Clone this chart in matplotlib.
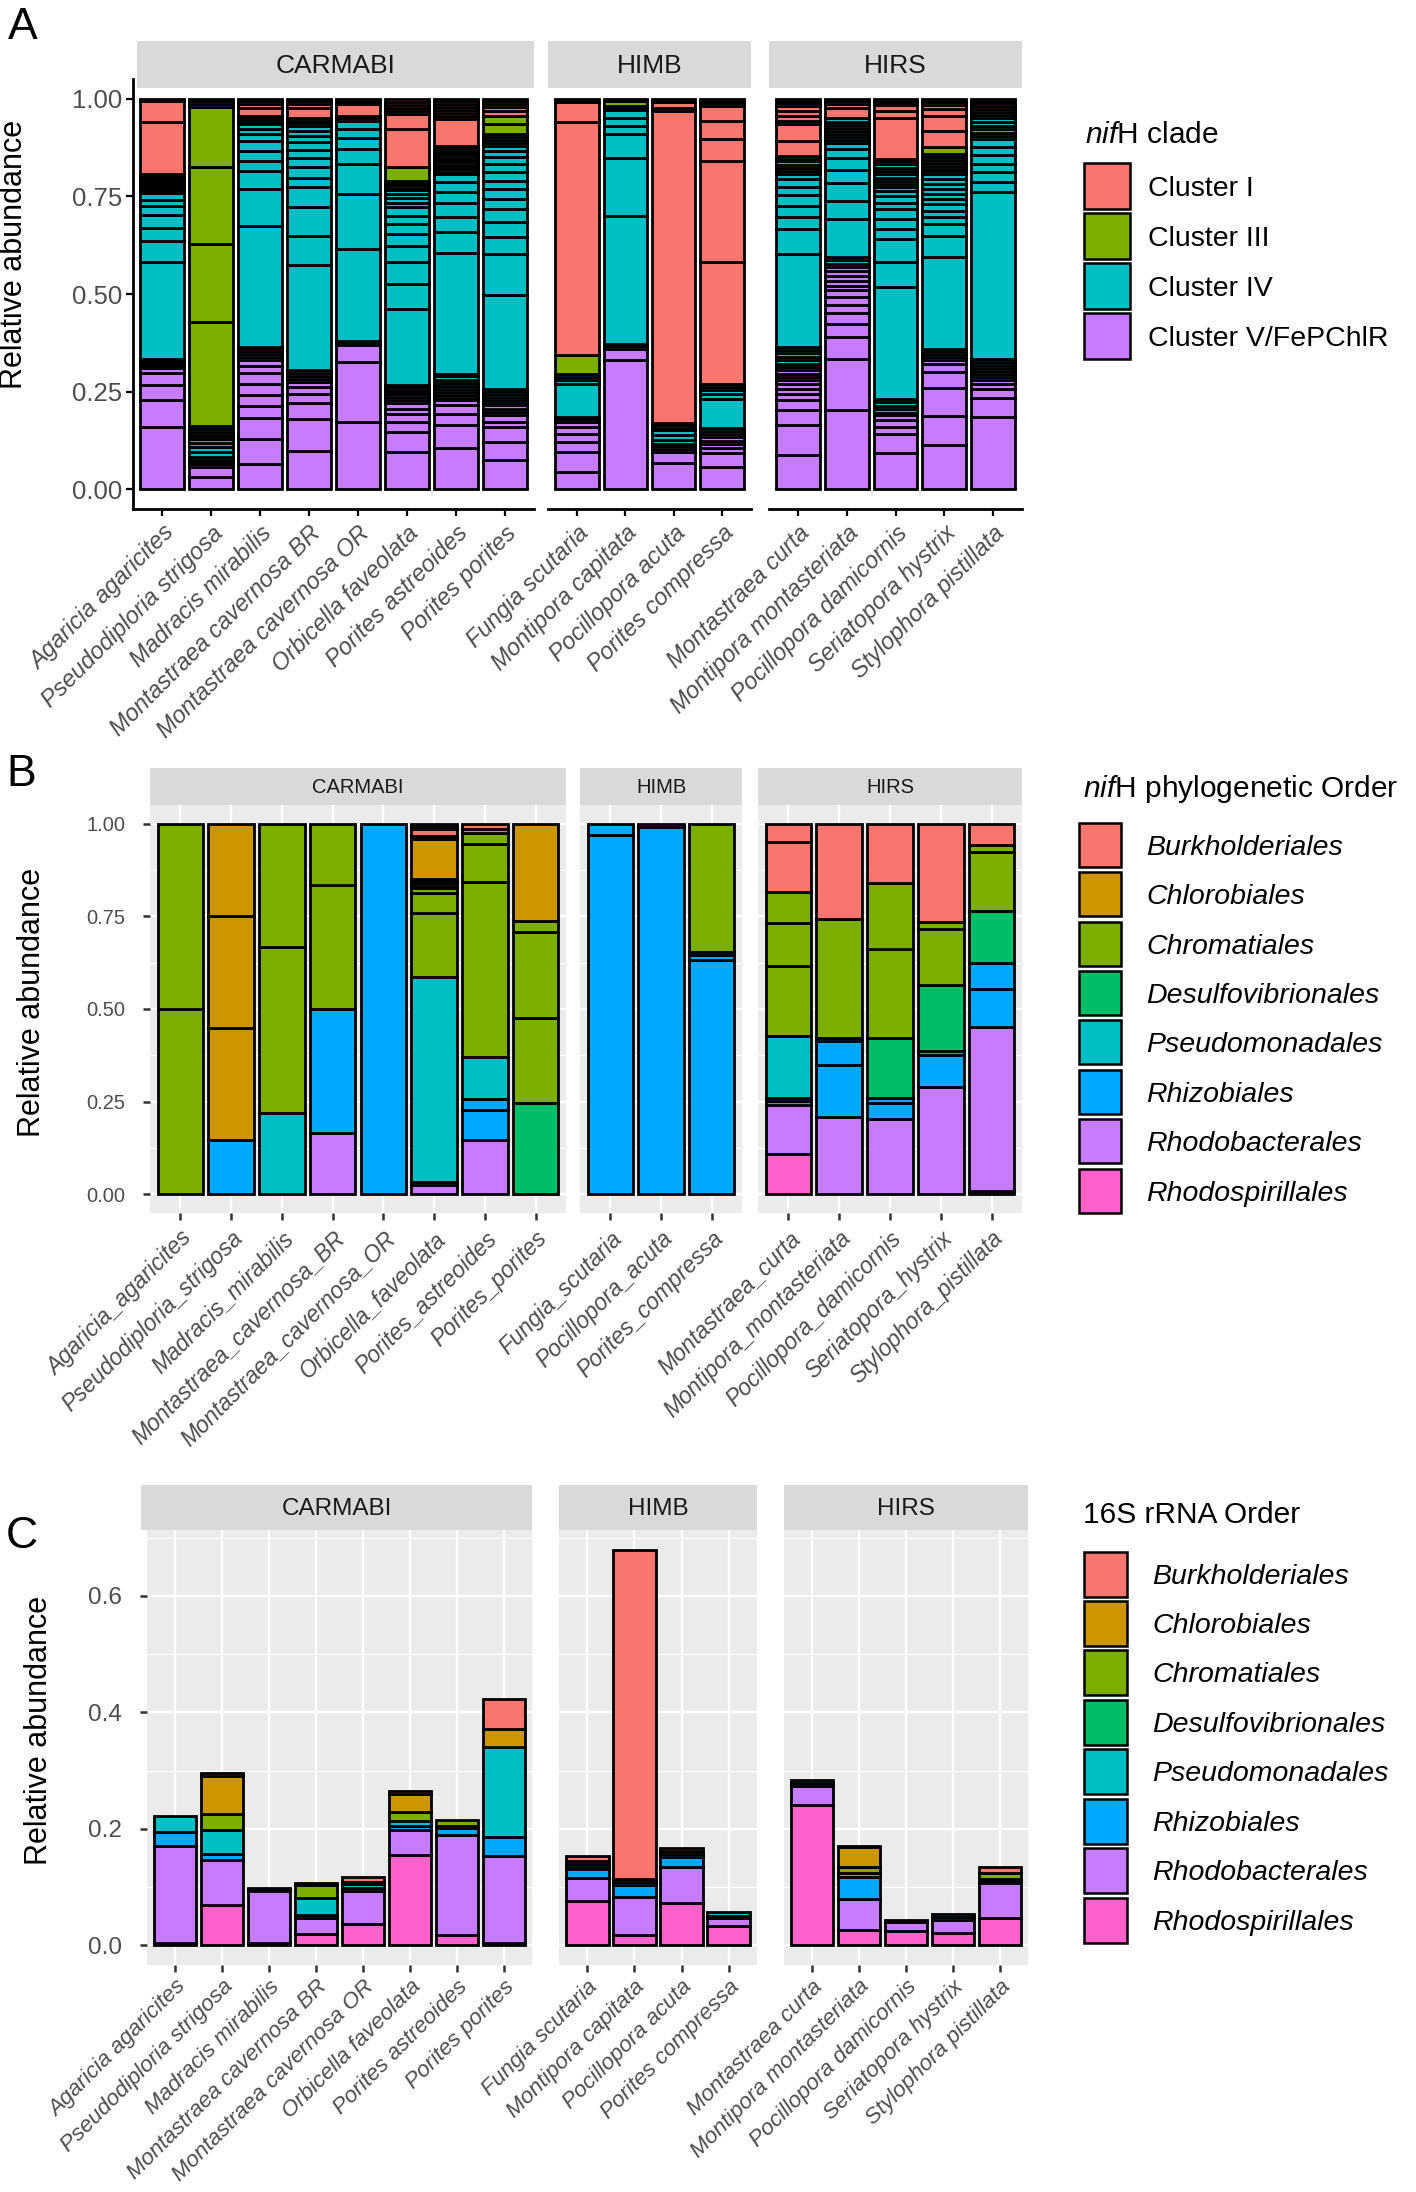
import matplotlib
matplotlib.use("Agg")
import matplotlib.pyplot as plt
from matplotlib.patches import Rectangle
from matplotlib.ticker import FormatStrFormatter

plt.rcParams["font.family"] = ["Liberation Sans", "DejaVu Sans"]
plt.rcParams["mathtext.fontset"] = "custom"
plt.rcParams["mathtext.rm"] = "Liberation Sans"
plt.rcParams["mathtext.it"] = "Liberation Sans:italic"

# ---------------- data ----------------
# panel A: nifH clades, OTU fractions of each clade listed bottom-up
clade_keys = ["I", "III", "IV", "V"]
clade_names = ["Cluster I", "Cluster III", "Cluster IV", "Cluster V/FePChlR"]
clade_colors = ["#F8766D", "#7CAE00", "#00BFC4", "#C77CFF"]

A_carmabi = {
    "Agaricia agaricites": {
        "V": [0.160, 0.068, 0.038, 0.032, 0.013, 0.005, 0.004, 0.004, 0.004, 0.003, 0.003],
        "IV": [0.247, 0.054, 0.033, 0.034, 0.022, 0.017, 0.018, 0.004, 0.004, 0.004, 0.003, 0.003,
               0.003, 0.003, 0.004, 0.004, 0.004, 0.004, 0.004, 0.004],
        "I": [0.132, 0.055, 0.003, 0.003]},
    "Pseudodiploria strigosa": {
        "V": [0.031, 0.027, 0.006, 0.006, 0.006],
        "IV": [0.008, 0.012, 0.012, 0.012, 0.008, 0.006, 0.006, 0.006, 0.008, 0.008],
        "III": [0.266, 0.200, 0.198, 0.153],
        "I": [0.008, 0.007, 0.006]},
    "Madracis mirabilis": {
        "V": [0.066, 0.062, 0.056, 0.029, 0.028, 0.030, 0.027, 0.019, 0.013, 0.008, 0.008, 0.007, 0.007, 0.004],
        "IV": [0.311, 0.094, 0.045, 0.027, 0.025, 0.026, 0.017, 0.014, 0.011, 0.006, 0.005, 0.005, 0.006],
        "I": [0.021, 0.008, 0.009, 0.006]},
    "Montastraea cavernosa BR": {
        "V": [0.099, 0.082, 0.039, 0.025, 0.017, 0.013, 0.008, 0.008, 0.007, 0.007],
        "IV": [0.268, 0.076, 0.073, 0.051, 0.025, 0.028, 0.022, 0.020, 0.020, 0.017, 0.012, 0.013,
               0.007, 0.006, 0.007],
        "I": [0.027, 0.009, 0.008, 0.006]},
    "Montastraea cavernosa OR": {
        "V": [0.173, 0.153, 0.043, 0.006, 0.006],
        "IV": [0.234, 0.142, 0.075, 0.039, 0.028, 0.023, 0.021, 0.007, 0.006],
        "I": [0.030, 0.005, 0.005, 0.004]},
    "Orbicella faveolata": {
        "V": [0.096, 0.051, 0.026, 0.021, 0.013, 0.013, 0.010, 0.007, 0.006, 0.006, 0.006, 0.006, 0.005],
        "IV": [0.196, 0.064, 0.055, 0.043, 0.030, 0.025, 0.021, 0.022, 0.012, 0.012, 0.010, 0.010,
               0.006, 0.006, 0.006, 0.006],
        "III": [0.036],
        "I": [0.097, 0.037, 0.008, 0.008, 0.008, 0.008, 0.008]},
    "Porites astreoides": {
        "V": [0.105, 0.059, 0.030, 0.021, 0.013, 0.007, 0.006],
        "IV": [0.008, 0.008, 0.008, 0.008, 0.008, 0.008, 0.007, 0.308, 0.054, 0.038, 0.038, 0.026,
               0.026, 0.021, 0.006, 0.006, 0.006, 0.006, 0.006, 0.006, 0.006, 0.006, 0.006, 0.006,
               0.006, 0.006],
        "I": [0.068, 0.009, 0.008, 0.007, 0.007, 0.007, 0.008, 0.007]},
    "Porites porites": {
        "V": [0.075, 0.047, 0.038, 0.013, 0.017, 0.008, 0.009, 0.008],
        "IV": [0.007, 0.007, 0.007, 0.007, 0.008, 0.007, 0.240, 0.105, 0.042, 0.038, 0.034, 0.026,
               0.026, 0.021, 0.021, 0.021, 0.019, 0.015, 0.013, 0.008, 0.007, 0.008, 0.007],
        "III": [0.025, 0.022],
        "I": [0.012, 0.010, 0.008, 0.007, 0.007]},
}

A_himb = {
    "Fungia scutaria": {
        "V": [0.045, 0.051, 0.026, 0.021, 0.017, 0.013, 0.007, 0.006],
        "IV": [0.085, 0.008, 0.009, 0.008],
        "III": [0.047],
        "I": [0.596, 0.051, 0.005, 0.005]},
    "Montipora capitata": {
        "V": [0.330, 0.030, 0.007, 0.006],
        "IV": [0.327, 0.149, 0.060, 0.021, 0.021, 0.019, 0.005, 0.006],
        "III": [0.013],
        "I": [0.006]},
    "Pocillopora acuta": {
        "V": [0.068, 0.028, 0.007, 0.007, 0.007],
        "IV": [0.010, 0.012, 0.012, 0.007, 0.007, 0.005],
        "I": [0.799, 0.008, 0.013, 0.005, 0.005]},
    "Porites compressa": {
        "V": [0.058, 0.034, 0.013, 0.012, 0.008, 0.008, 0.008, 0.008, 0.007],
        "IV": [0.076, 0.013, 0.009, 0.009, 0.008],
        "I": [0.310, 0.260, 0.055, 0.047, 0.038, 0.007, 0.006, 0.006]},
}

A_hirs = {
    "Montastraea curta": {
        "V": [0.088, 0.076, 0.039, 0.025, 0.017, 0.013, 0.013, 0.008, 0.009, 0.008, 0.009, 0.008],
        "IV": [0.009, 0.009, 0.009, 0.008, 0.008, 0.008, 0.238, 0.064, 0.030, 0.030, 0.028, 0.021,
               0.019, 0.012, 0.009, 0.008, 0.008, 0.008, 0.007, 0.008],
        "I": [0.038, 0.043, 0.008, 0.013, 0.013, 0.012, 0.007, 0.006, 0.006]},
    "Montipora montasteriata": {
        "V": [0.203, 0.131, 0.056, 0.034, 0.027, 0.022, 0.019, 0.017, 0.012, 0.013, 0.013, 0.011,
              0.010, 0.009],
        "IV": [0.009, 0.008, 0.098, 0.047, 0.044, 0.034, 0.030, 0.023, 0.017, 0.008, 0.007, 0.007,
               0.008, 0.008, 0.008, 0.008, 0.009],
        "I": [0.027, 0.008, 0.008, 0.007]},
    "Pocillopora damicornis": {
        "V": [0.092, 0.051, 0.017, 0.017, 0.013, 0.006],
        "IV": [0.009, 0.009, 0.009, 0.009, 0.285, 0.066, 0.057, 0.026, 0.025, 0.026, 0.017, 0.017,
               0.013, 0.010, 0.008, 0.008, 0.008, 0.008, 0.008, 0.009, 0.009, 0.008],
        "III": [0.006],
        "I": [0.105, 0.018, 0.014, 0.006, 0.006, 0.005]},
    "Seriatopora hystrix": {
        "V": [0.113, 0.074, 0.073, 0.040, 0.022, 0.008, 0.009],
        "IV": [0.007, 0.007, 0.007, 0.234, 0.055, 0.030, 0.019, 0.015, 0.017, 0.013, 0.013, 0.013,
               0.012, 0.013, 0.013, 0.007, 0.006, 0.008, 0.008, 0.008, 0.007, 0.007],
        "III": [0.019],
        "I": [0.039, 0.040, 0.017, 0.011, 0.006, 0.005, 0.005]},
    "Stylophora pistillata": {
        "V": [0.186, 0.049, 0.023, 0.013, 0.008],
        "IV": [0.008, 0.008, 0.008, 0.008, 0.008, 0.008, 0.007, 0.426, 0.026, 0.025, 0.021, 0.024,
               0.021, 0.019, 0.009, 0.008, 0.009, 0.009, 0.009, 0.009, 0.008, 0.008, 0.008],
        "I": [0.008, 0.007, 0.006, 0.006]},
}

# panels B and C: bacterial orders
orders = ["Burkholderiales", "Chlorobiales", "Chromatiales", "Desulfovibrionales",
          "Pseudomonadales", "Rhizobiales", "Rhodobacterales", "Rhodospirillales"]
order_colors = ["#F8766D", "#CD9600", "#7CAE00", "#00BE67",
                "#00BFC4", "#00A9FF", "#C77CFF", "#FF61CC"]

B_carmabi = {
    "Agaricia_agaricites": {"Chromatiales": [0.5, 0.5]},
    "Pseudodiploria_strigosa": {"Rhizobiales": [0.147], "Chlorobiales": [0.302, 0.303, 0.248]},
    "Madracis_mirabilis": {"Pseudomonadales": [0.220], "Chromatiales": [0.448, 0.332]},
    "Montastraea_cavernosa_BR": {"Rhodobacterales": [0.167], "Rhizobiales": [0.333],
                                 "Chromatiales": [0.333, 0.167]},
    "Montastraea_cavernosa_OR": {"Rhizobiales": [1.0]},
    "Orbicella_faveolata": {"Rhodobacterales": [0.026], "Pseudomonadales": [0.008, 0.552],
                            "Chromatiales": [0.172, 0.054, 0.014],
                            "Chlorobiales": [0.006, 0.007, 0.006, 0.006, 0.106],
                            "Burkholderiales": [0.005, 0.005, 0.017, 0.006, 0.005, 0.005]},
    "Porites_astreoides": {"Rhodobacterales": [0.147], "Rhizobiales": [0.082, 0.028],
                           "Pseudomonadales": [0.113], "Chromatiales": [0.473, 0.101, 0.031],
                           "Burkholderiales": [0.010, 0.015]},
    "Porites_porites": {"Desulfovibrionales": [0.247], "Chromatiales": [0.230, 0.230, 0.030],
                        "Chlorobiales": [0.263]},
}
B_himb = {
    "Fungia_scutaria": {"Rhizobiales": [0.969, 0.031]},
    "Pocillopora_acuta": {"Rhizobiales": [0.990, 0.005, 0.005]},
    "Porites_compressa": {"Rhizobiales": [0.632, 0.014, 0.008], "Chromatiales": [0.346]},
}
B_hirs = {
    "Montastraea_curta": {"Rhodospirillales": [0.109], "Rhodobacterales": [0.133],
                          "Rhizobiales": [0.009, 0.009], "Pseudomonadales": [0.168],
                          "Chromatiales": [0.188, 0.117, 0.083], "Burkholderiales": [0.135, 0.049]},
    "Montipora_montasteriata": {"Rhodobacterales": [0.208], "Rhizobiales": [0.142, 0.063],
                                "Pseudomonadales": [0.008], "Chromatiales": [0.322],
                                "Burkholderiales": [0.257]},
    "Pocillopora_damicornis": {"Rhodobacterales": [0.204], "Rhizobiales": [0.043, 0.012],
                               "Desulfovibrionales": [0.164], "Chromatiales": [0.238, 0.179],
                               "Burkholderiales": [0.160]},
    "Seriatopora_hystrix": {"Rhodobacterales": [0.291], "Rhizobiales": [0.086, 0.009],
                            "Desulfovibrionales": [0.179], "Chromatiales": [0.150, 0.020],
                            "Burkholderiales": [0.265]},
    "Stylophora_pistillata": {"Rhodospirillales": [0.008], "Rhodobacterales": [0.443],
                              "Rhizobiales": [0.102, 0.070], "Desulfovibrionales": [0.141],
                              "Chromatiales": [0.158, 0.020], "Burkholderiales": [0.058]},
}

C_carmabi = {
    "Agaricia agaricites": {"Rhodospirillales": [0.004], "Rhodobacterales": [0.166],
                            "Rhizobiales": [0.025], "Pseudomonadales": [0.027]},
    "Pseudodiploria strigosa": {"Rhodospirillales": [0.069], "Rhodobacterales": [0.078],
                                "Rhizobiales": [0.009], "Pseudomonadales": [0.042],
                                "Chromatiales": [0.027], "Chlorobiales": [0.066],
                                "Burkholderiales": [0.004]},
    "Madracis mirabilis": {"Rhodospirillales": [0.004], "Rhodobacterales": [0.089],
                           "Rhizobiales": [0.003], "Pseudomonadales": [0.003]},
    "Montastraea cavernosa BR": {"Rhodospirillales": [0.020], "Rhodobacterales": [0.027],
                                 "Rhizobiales": [0.005], "Pseudomonadales": [0.029],
                                 "Chromatiales": [0.022], "Chlorobiales": [0.003]},
    "Montastraea cavernosa OR": {"Rhodospirillales": [0.036], "Rhodobacterales": [0.057],
                                 "Rhizobiales": [0.006], "Pseudomonadales": [0.006],
                                 "Chromatiales": [0.004], "Burkholderiales": [0.008]},
    "Orbicella faveolata": {"Rhodospirillales": [0.155], "Rhodobacterales": [0.043],
                            "Rhizobiales": [0.007], "Pseudomonadales": [0.008],
                            "Chromatiales": [0.015], "Chlorobiales": [0.031],
                            "Burkholderiales": [0.005]},
    "Porites astreoides": {"Rhodospirillales": [0.017], "Rhodobacterales": [0.172],
                           "Rhizobiales": [0.012], "Pseudomonadales": [0.004],
                           "Chromatiales": [0.010]},
    "Porites porites": {"Rhodospirillales": [0.003], "Rhodobacterales": [0.150],
                        "Rhizobiales": [0.033], "Pseudomonadales": [0.155],
                        "Chlorobiales": [0.031], "Burkholderiales": [0.051]},
}
C_himb = {
    "Fungia scutaria": {"Rhodospirillales": [0.076], "Rhodobacterales": [0.039],
                        "Rhizobiales": [0.016], "Pseudomonadales": [0.004],
                        "Chromatiales": [0.004], "Chlorobiales": [0.006],
                        "Burkholderiales": [0.009]},
    "Montipora capitata": {"Rhodospirillales": [0.017], "Rhodobacterales": [0.066],
                           "Rhizobiales": [0.020], "Pseudomonadales": [0.006],
                           "Chromatiales": [0.005], "Burkholderiales": [0.565]},
    "Pocillopora acuta": {"Rhodospirillales": [0.072], "Rhodobacterales": [0.062],
                          "Rhizobiales": [0.017], "Pseudomonadales": [0.006],
                          "Chromatiales": [0.005], "Burkholderiales": [0.005]},
    "Porites compressa": {"Rhodospirillales": [0.033], "Rhodobacterales": [0.013],
                          "Rhizobiales": [0.005], "Pseudomonadales": [0.006]},
}
C_hirs = {
    "Montastraea curta": {"Rhodospirillales": [0.240], "Rhodobacterales": [0.034],
                          "Rhizobiales": [0.005], "Pseudomonadales": [0.005]},
    "Montipora montasteriata": {"Rhodospirillales": [0.026], "Rhodobacterales": [0.054],
                                "Rhizobiales": [0.038], "Pseudomonadales": [0.006],
                                "Chromatiales": [0.011], "Chlorobiales": [0.033],
                                "Burkholderiales": [0.003]},
    "Pocillopora damicornis": {"Rhodospirillales": [0.025], "Rhodobacterales": [0.015],
                               "Rhizobiales": [0.004]},
    "Seriatopora hystrix": {"Rhodospirillales": [0.021], "Rhodobacterales": [0.023],
                            "Rhizobiales": [0.005], "Pseudomonadales": [0.005]},
    "Stylophora pistillata": {"Rhodospirillales": [0.046], "Rhodobacterales": [0.061],
                              "Rhizobiales": [0.004], "Pseudomonadales": [0.003],
                              "Chromatiales": [0.010], "Burkholderiales": [0.011]},
}

sites = ["CARMABI", "HIMB", "HIRS"]

# ---------------- figure ----------------
W, H = 1416, 2192
fig = plt.figure(figsize=(W / 100, H / 100), dpi=100)
GREY30 = "#4D4D4D"


def box(l, t, r, b):
    return [l / W, 1 - b / H, (r - l) / W, (b - t) / H]


def strip(l, t, r, b, label, size):
    sax = fig.add_axes(box(l, t, r, b))
    sax.set_facecolor("#D9D9D9")
    sax.set_xticks([])
    sax.set_yticks([])
    for sp in sax.spines.values():
        sp.set_visible(False)
    sax.text(0.5, 0.46, label, ha="center", va="center", fontsize=size,
             color="#1A1A1A", transform=sax.transAxes)


def facet(rect, data, stack, colors, ylim, lw):
    ax = fig.add_axes(box(*rect))
    samples = list(data.keys())
    for i, s in enumerate(samples):
        bottom = 0.0
        for g in stack:
            for v in data[s].get(g, []):
                ax.bar(i, v, 0.9, bottom, color=colors[g], edgecolor="black",
                       linewidth=lw, zorder=3)
                bottom += v
    ax.set_xlim(-0.6, len(samples) - 0.4)
    ax.set_ylim(*ylim)
    ax.set_xticks(range(len(samples)))
    return ax, samples


def xlabels(ax, samples, fs, pad):
    ax.set_xticklabels(samples, rotation=45, ha="right", va="top",
                       rotation_mode="anchor", style="italic",
                       fontsize=fs, color=GREY30)
    ax.tick_params(axis="x", pad=pad)


# ---- panel A ----
A_stack = ["V", "IV", "III", "I"]
A_col = dict(zip(clade_keys, clade_colors))
A_rects = [(133, 79, 534, 509), (548, 79, 751, 509), (769, 79, 1022, 509)]
A_strips = [(137, 41, 534, 88), (548, 41, 751, 88), (769, 41, 1022, 88)]
for k, (rect, data) in enumerate(zip(A_rects, [A_carmabi, A_himb, A_hirs])):
    ax, samples = facet(rect, data, A_stack, A_col, (-0.05, 1.05), 2.0)
    strip(*A_strips[k], sites[k], 19)
    xlabels(ax, samples, 17, 4)
    for s in ["top", "right"]:
        ax.spines[s].set_visible(False)
    ax.spines["bottom"].set_linewidth(2.0)
    ax.tick_params(axis="x", length=5, width=1.6, color="black")
    if k == 0:
        ax.spines["left"].set_linewidth(2.0)
        ax.set_yticks([0, 0.25, 0.5, 0.75, 1.0])
        ax.yaxis.set_major_formatter(FormatStrFormatter("%.2f"))
        ax.tick_params(axis="y", length=5, width=1.6, labelsize=18.5,
                       labelcolor=GREY30, pad=3)
    else:
        ax.spines["left"].set_visible(False)
        ax.set_yticks([])


def grey_panel(ax, show_y, yticks, yminor, fmt, fs):
    ax.set_facecolor("#EBEBEB")
    for sp in ax.spines.values():
        sp.set_visible(False)
    ax.set_axisbelow(True)
    ax.set_yticks(yticks)
    ax.set_yticks(yminor, minor=True)
    ax.grid(True, which="major", color="white", linewidth=1.6)
    ax.grid(True, which="minor", axis="y", color="white", linewidth=0.8)
    ax.tick_params(which="minor", length=0)
    ax.tick_params(axis="x", length=5, width=1.8, color="#333333")
    if show_y:
        ax.yaxis.set_major_formatter(FormatStrFormatter(fmt))
        ax.tick_params(axis="y", length=5, width=1.8, color="#333333",
                       labelsize=fs, labelcolor=GREY30, pad=13)
    else:
        ax.tick_params(axis="y", length=0, labelleft=False)


order_col = dict(zip(orders, order_colors))
order_stack = orders[::-1]

# ---- panel B ----
B_rects = [(150, 805, 566, 1213), (580, 805, 742, 1213), (758, 805, 1022, 1213)]
for k, (rect, data) in enumerate(zip(B_rects, [B_carmabi, B_himb, B_hirs])):
    ax, samples = facet(rect, data, order_stack, order_col, (-0.05, 1.05), 2.0)
    strip(rect[0], 768, rect[2], 805, sites[k], 14.5)
    grey_panel(ax, k == 0, [0, 0.25, 0.5, 0.75, 1.0], [0.125, 0.375, 0.625, 0.875], "%.2f", 14.5)
    xlabels(ax, samples, 16.5, 5)

# ---- panel C ----
C_tot = [sum(sum(v) for v in d[s].values()) for d in (C_carmabi, C_himb, C_hirs) for s in d]
C_max = max(C_tot)
C_ylim = (-0.05 * C_max, 1.05 * C_max)
C_rects = [(147, 1530, 532, 1965), (559, 1530, 757, 1965), (784, 1530, 1028, 1965)]
for k, (rect, data) in enumerate(zip(C_rects, [C_carmabi, C_himb, C_hirs])):
    ax, samples = facet(rect, data, order_stack, order_col, C_ylim, 2.0)
    strip(rect[0] - 6 if k == 0 else rect[0], 1485, rect[2], 1530, sites[k], 17.5)
    grey_panel(ax, k == 0, [0, 0.2, 0.4, 0.6], [0.1, 0.3, 0.5, 0.7], "%.1f", 17.5)
    xlabels(ax, samples, 16.2, 3)

# ---- axis titles and panel letters ----
for (x, y) in [(14, 254), (32, 1002), (39, 1730)]:
    fig.text(x / W, 1 - y / H, "Relative abundance", rotation=90, ha="center",
             va="center", fontsize=22)
for (x, y, t) in [(8, 39, "A"), (6, 786, "B"), (6, 1548, "C")]:
    fig.text(x / W, 1 - y / H, t, ha="left", va="baseline", fontsize=32)


# ---- legends ----
def legend(title, tx, ty, labels, colors, kx, kw, kh, centers, lx, italic):
    fig.text(tx / W, 1 - ty / H, title, ha="left", va="baseline", fontsize=21.5)
    for lab, col, yc in zip(labels, colors, centers):
        fig.add_artist(Rectangle((kx / W, 1 - (yc + kh / 2) / H), kw / W, kh / H,
                                 transform=fig.transFigure, facecolor=col,
                                 edgecolor="black", linewidth=1.8))
        fig.text(lx / W, 1 - (yc + 10) / H, lab, ha="left", va="baseline",
                 fontsize=20.5, style="italic" if italic else "normal")


legend(r"$\it{nif}$H clade", 1085, 143, clade_names, clade_colors,
       1084, 46, 46, [186, 236, 286, 336], 1148, False)
legend(r"$\it{nif}$H phylogenetic Order", 1083, 797, orders, order_colors,
       1079, 42, 44, [845, 894, 944, 993, 1042, 1092, 1141, 1191], 1146, True)
legend("16S rRNA Order", 1083, 1523, orders, order_colors,
       1084, 43, 45, [1574, 1623, 1672, 1722, 1771, 1821, 1870, 1920], 1152, True)

fig.savefig("out.png", dpi=100, facecolor="white")
